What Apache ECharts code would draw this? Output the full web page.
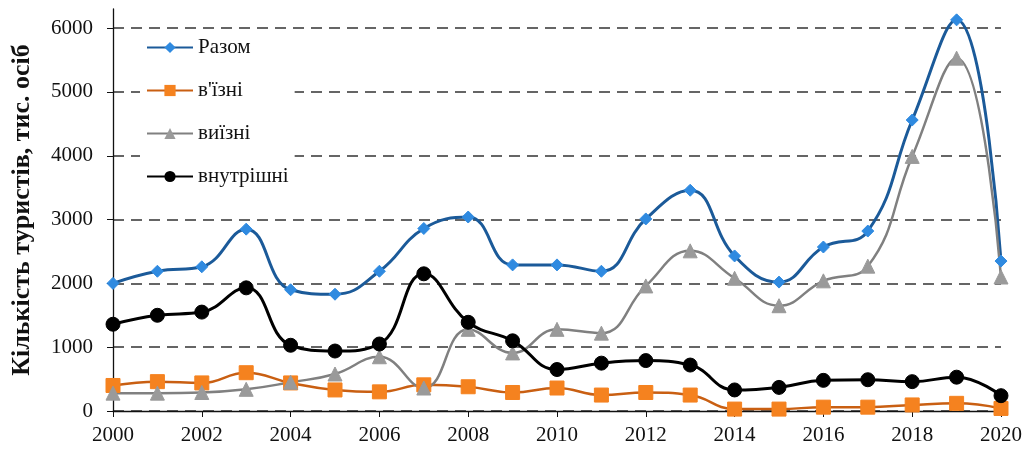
<!DOCTYPE html>
<html><head><meta charset="utf-8">
<script src="https://cdn.jsdelivr.net/npm/echarts@6/dist/echarts.min.js"></script>
<style>html,body{margin:0;padding:0;background:#fff}#c{width:1031px;height:450px}</style>
</head><body><div id="c"></div>
<script>
const years = ['2000','2001','2002','2003','2004','2005','2006','2007','2008','2009','2010','2011','2012','2013','2014','2015','2016','2017','2018','2019','2020'];
const total = [2000,2190,2260,2850,1900,1830,2190,2860,3040,2290,2290,2190,3010,3460,2430,2020,2570,2820,4560,6130,2350];
const inbound = [400,460,440,600,440,330,300,410,380,290,360,250,290,250,30,30,60,60,95,120,40];
const outbound = [280,280,290,340,450,580,850,360,1280,910,1280,1220,1960,2510,2080,1650,2040,2270,3990,5530,2100];
const domestic = [1360,1500,1550,1930,1030,940,1050,2150,1390,1100,650,750,790,720,330,370,480,490,460,530,240];
const seriesNames = ['Разом', "в'їзні", 'виїзні', 'внутрішні'];
const yTitle = 'Кількість туристів, тис. осіб';

const serif = 'Liberation Serif';
const chart = echarts.init(document.getElementById('c'));
function mk(name, data, lineColor, symColor, symbol, size, width) {
  return {
    name, type: 'line', data, smooth: 0.45, symbol, symbolSize: size,
    lineStyle: {color: lineColor, width},
    itemStyle: {color: symColor, borderColor: symColor},
    emphasis: {disabled: true}
  };
}
chart.setOption({
  animation: false,
  textStyle: {fontFamily: serif},
  grid: {left: 113, right: 30, top: 9, bottom: 39},
  legend: {
    orient: 'vertical', left: 140, top: 31, itemWidth: 46, itemHeight: 14, itemGap: 22,
    backgroundColor: '#fff', padding: [6, 6, 6, 6],
    textStyle: {fontFamily: serif, fontSize: 21, color: '#111'},
    data: seriesNames
  },
  xAxis: {
    type: 'category', data: years, boundaryGap: false,
    axisLine: {lineStyle: {color: '#111', width: 1.3}},
    axisTick: {interval: 1, length: 6, lineStyle: {color: '#111'}},
    axisLabel: {interval: 1, fontFamily: serif, fontSize: 21, color: '#111', margin: 14},
    splitLine: {show: false}
  },
  yAxis: {
    type: 'value', min: 0, max: 6300, interval: 1000,
    name: yTitle, nameLocation: 'middle', nameGap: 78,
    nameTextStyle: {fontFamily: serif, fontSize: 26, fontWeight: 'bold', color: '#111'},
    axisLine: {show: true, lineStyle: {color: '#111', width: 1.3}},
    axisTick: {show: true, length: 6, lineStyle: {color: '#111'}},
    axisLabel: {fontFamily: serif, fontSize: 21, color: '#111', margin: 20, showMaxLabel: false,
      formatter: v => (v % 1000 === 0 ? String(v) : '')},
    splitLine: {show: true, showMaxLine: false, lineStyle: {color: '#333', type: [11, 7], width: 1.6}}
  },
  series: [
    mk(seriesNames[0], total, '#1b5a99', '#2f8ae0', 'diamond', 12, 3),
    mk(seriesNames[1], inbound, '#c95f12', '#f5821f', 'rect', 14, 2.5),
    mk(seriesNames[2], outbound, '#808080', '#9a9a9a', 'triangle', 14, 2.5),
    mk(seriesNames[3], domestic, '#000000', '#000000', 'circle', 14, 3)
  ]
});
</script></body></html>
